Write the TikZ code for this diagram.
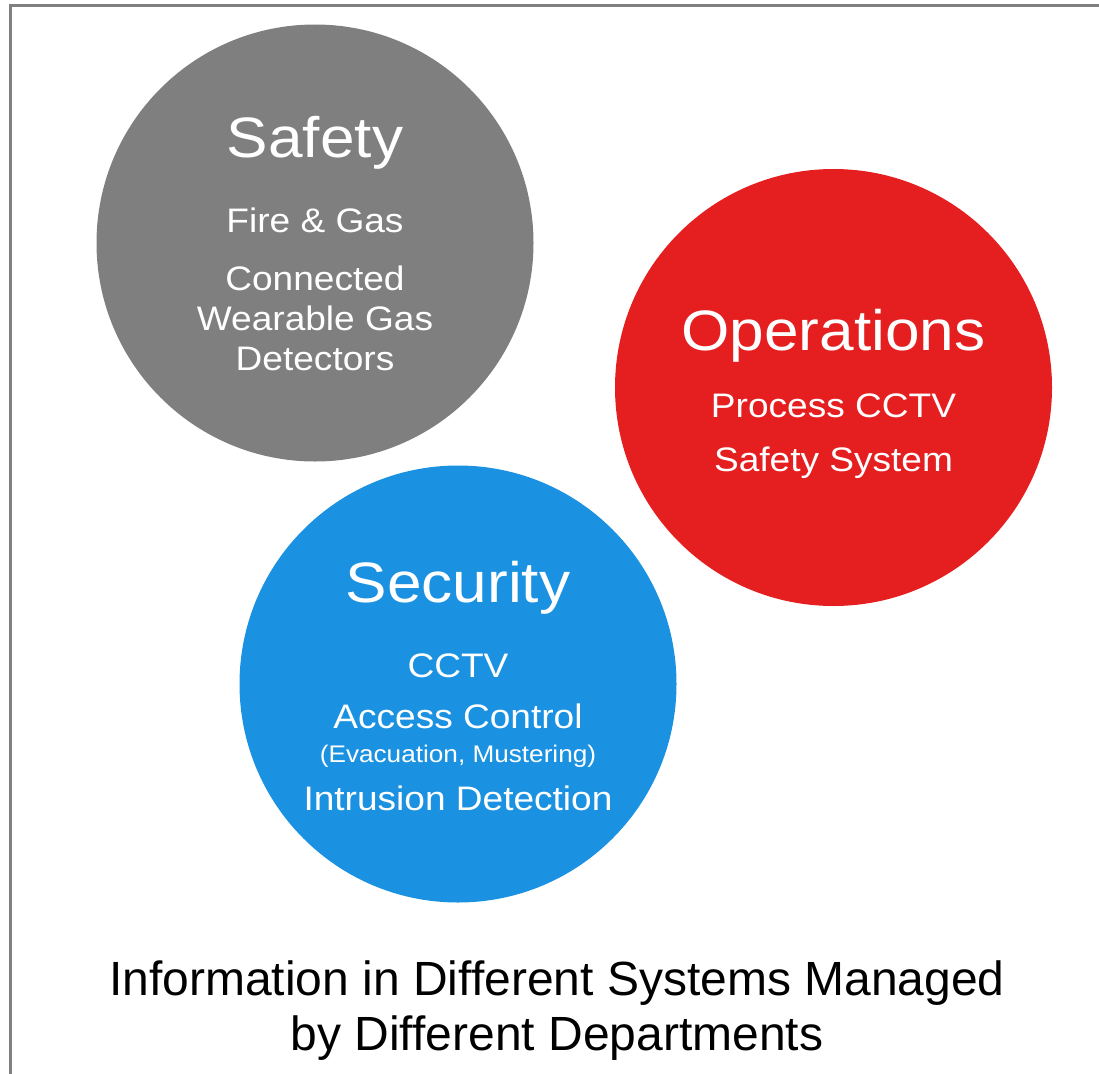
\documentclass[tikz,border=0pt]{standalone}
\usepackage{fontspec}
\setmainfont{Liberation Sans}
\newfontfamily\widefont[FakeStretch=1.09]{Liberation Sans}
\definecolor{cgray}{RGB}{127,127,127}
\definecolor{cred}{RGB}{229,30,32}
\definecolor{cblue}{RGB}{27,145,225}
\definecolor{frame}{RGB}{128,128,128}
\begin{document}
\begin{tikzpicture}[x=1pt,y=-1pt,
  disc/.style={circle,minimum size=437pt,inner sep=0pt,draw=none},
  title/.style={anchor=base,text=white,inner sep=0pt,font=\widefont\fontsize{57}{60}\selectfont},
  item/.style={anchor=base,text=white,inner sep=0pt,font=\widefont\fontsize{34}{38}\selectfont},
  small/.style={anchor=base,text=white,inner sep=0pt,font=\widefont\fontsize{24}{26}\selectfont},
  caption/.style={anchor=base,text=black,inner sep=0pt,font=\fontsize{48}{52}\selectfont}]
\useasboundingbox (0,0) rectangle (1099,1073);
\draw[frame,line width=3pt] (10.5,1090) -- (10.5,5.5) -- (1110,5.5);
% circles
\node[disc,fill=cgray] (safety) at (315,243) {};
\node[disc,fill=cred] (ops) at (833.5,387.5) {};
\node[disc,fill=cblue] (sec) at (458,684) {};
% Safety
\node[title] (tsafety) at (315,157) {Safety};
\node[item] (fg) at (315,232) {Fire \& Gas};
\node[item] (conn) at (315,290) {Connected};
\node[item] (wear) at (315,330) {Wearable Gas};
\node[item] (det) at (315,370) {Detectors};
% Operations
\node[title] (tops) at (833.5,350) {Operations};
\node[item] (pcctv) at (833.5,417) {Process CCTV};
\node[item] (ssys) at (833.5,471) {Safety System};
% Security
\node[title] (tsec) at (458,602) {Security};
\node[item] (cctv) at (458,677) {CCTV};
\node[item] (acc) at (458,728) {Access Control};
\node[small] (evac) at (458,762) {(Evacuation, Mustering)};
\node[item] (intr) at (458,810) {Intrusion Detection};
% caption
\node[caption] (cap1) at (557,995) {Information in Different Systems Managed};
\node[caption] (cap2) at (557,1050) {by Different Departments};
\end{tikzpicture}
\end{document}
